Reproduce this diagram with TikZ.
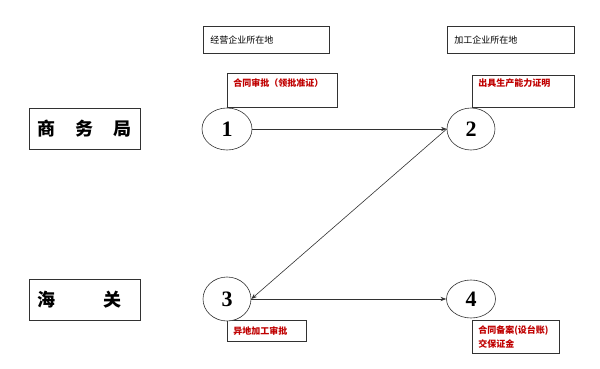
\documentclass[tikz,border=0pt]{standalone}
\usepackage{fontspec}
\newfontfamily\cjk{Noto Sans CJK SC}
\newfontfamily\digits{Liberation Serif}
\usetikzlibrary{arrows.meta,positioning,shapes.geometric}
\definecolor{notered} {RGB}{192,0,0}
\definecolor{linegray}{RGB}{50,50,50}

\begin{document}
\begin{tikzpicture}[
  x=1pt, y=-1pt, >=Stealth,
  office/.style={rectangle, draw=linegray, line width=0.6pt, anchor=north west,
    minimum width=111pt, minimum height=41pt, inner xsep=8pt, inner ysep=0pt,
    text width=95pt, align=left, font=\cjk\bfseries\fontsize{18}{20}\selectfont},
  place/.style={rectangle, draw=linegray, line width=0.6pt, anchor=north west,
    minimum height=27pt, inner xsep=7pt, inner ysep=0pt, align=left,
    font=\cjk\fontsize{9}{11}\selectfont},
  note/.style={rectangle, draw=linegray, line width=0.6pt, anchor=north west,
    inner xsep=6pt, inner ysep=0pt, align=left, text=notered,
    font=\cjk\bfseries\fontsize{9}{14}\selectfont},
  stage/.style={ellipse, draw=linegray, line width=0.6pt, fill=white,
    inner sep=0pt, font=\digits\bfseries\fontsize{22}{22}\selectfont},
  arr/.style={->, line width=0.6pt, color=linegray},
]
\fill[white] (0,0) rectangle (600,369);
\useasboundingbox (0,0) rectangle (600,369);

% locations
\node[place, minimum width=126pt, text width=112pt] (site1) at (203,26) {经营企业所在地};
\node[place, minimum width=127pt, text width=113pt] (site2) at (447,26) {加工企业所在地};

% authorities
\node[office] (mofcom)  at (29,108) {商\hspace{20pt}务\hspace{20pt}局};
\node[office] (customs) at (29,279) {海\hspace{48pt}关};

% notes
\node[note, minimum width=110pt, minimum height=34pt, text width=98pt,
      text height=8pt, text depth=16pt] (approve) at (227,73)
  {合同审批（领批准证）};
\node[note, minimum width=102pt, minimum height=32pt, text width=90pt,
      text height=8pt, text depth=17pt] (capacity) at (472,75)
  {出具生产能力证明};
\node[note, minimum width=79pt, minimum height=21pt, text width=67pt] (remote) at (227,320)
  {异地加工审批};
\node[note, minimum width=87pt, minimum height=33pt, text width=75pt] (record) at (472,320)
  {合同备案(设台账)\\交保证金};

% steps
\node[stage, minimum width=50pt, minimum height=42pt] (e1) at (227,129) {1};
\node[stage, minimum width=48pt, minimum height=42pt] (e2) at (471,129) {2};
\node[stage, minimum width=48pt, minimum height=44pt] (e3) at (227,299) {3};
\node[stage, minimum width=49pt, minimum height=38pt] (e4) at (471,299) {4};

% arrows
\draw[arr] (e1) -- (e2);
\draw[arr] (e2.west) -- (e3.east);
\draw[arr] (e3) -- (e4);

\end{tikzpicture}
\end{document}
